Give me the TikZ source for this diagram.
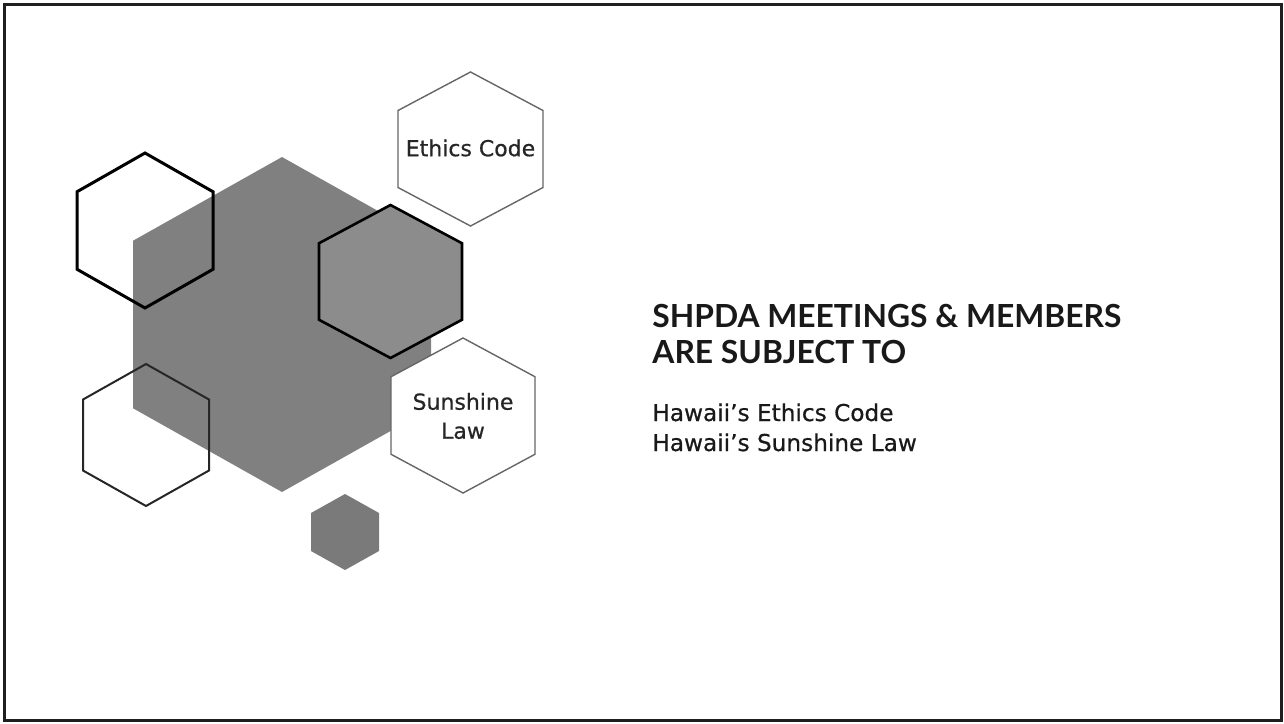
\documentclass[tikz,border=0pt]{standalone}
\usepackage{fontspec}
\setmainfont{Lato}
\newfontfamily\labelfont[FakeBold=0.6]{DejaVu Sans}
\usetikzlibrary{calc}
\def\hexagon[#1](#2,#3)(#4:#5){\draw[#1] (#2,#3-#5) -- (#2+#4,#3-#5/2) -- (#2+#4,#3+#5/2) -- (#2,#3+#5) -- (#2-#4,#3+#5/2) -- (#2-#4,#3-#5/2) -- cycle;}

\begin{document}
\begin{tikzpicture}[x=0.5pt,y=-0.5pt]
			%%%%% START %%%%%
			
			\useasboundingbox (0,0) rectangle (1284,723);
			\draw[line width=1.5pt, color=black!88] (4.5,4.5) rectangle (1281,720);
			
			\hexagon[draw=none, fill=black!50](282,324.5)(149:167.5)
			\hexagon[line width=1.5pt, color=black](145,230.5)(68:77.5)
			\hexagon[line width=1pt, color=black!85](146,435)(63:71)
			\hexagon[line width=1.3pt, draw=black, fill=black!45](390.5,281.5)(71.5:76.5)
			
			\hexagon[line width=0.7pt, draw=black!60, fill=white](470.5,149)(72.5:77)
			\hexagon[line width=0.7pt, draw=black!60, fill=white](463,415.5)(72:77.5)
			\hexagon[draw=none, fill=black!52](345,532)(34:38)
			
			\node[font=\labelfont\fontsize{11}{12}\selectfont, color=black!85] (ethics) at (470.5,148) {Ethics Code};
			\node[font=\labelfont\fontsize{11}{14.5}\selectfont, color=black!85, align=center] (sunshine) at (463,416) {Sunshine\\Law};
			
			\node[anchor=base west, inner sep=0, font=\bfseries\fontsize{15.9}{18}\selectfont, color=black!90] (title1) at (652,327) {SHPDA MEETINGS \& MEMBERS};
			\node[anchor=base west, inner sep=0, font=\bfseries\fontsize{15.9}{18}\selectfont, color=black!90] (title2) at (652,363) {ARE SUBJECT TO};
			
			\node[anchor=base west, inner sep=0, font=\labelfont\fontsize{11.6}{13}\selectfont, color=black!90] (item1) at (652,421) {Hawaii’s Ethics Code};
			\node[anchor=base west, inner sep=0, font=\labelfont\fontsize{11.6}{13}\selectfont, color=black!90] (item2) at (652,451) {Hawaii’s Sunshine Law};
			
			%%%%% END %%%%%
		\end{tikzpicture}
\end{document}
